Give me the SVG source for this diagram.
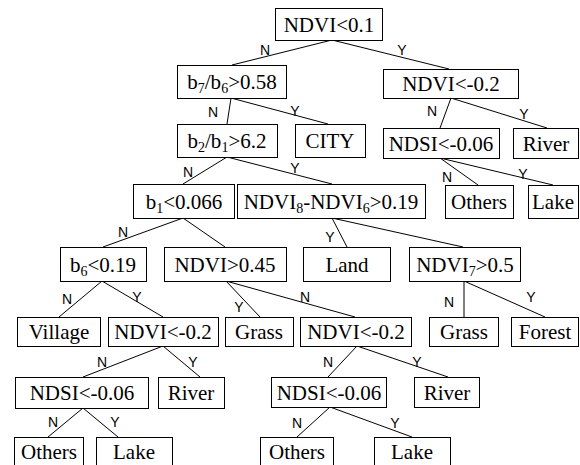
<svg xmlns="http://www.w3.org/2000/svg" width="580" height="465" viewBox="0 0 580 465">
<style>
rect { fill: #fff; stroke: #000; stroke-width: 1; }
.t { font-family: "Liberation Serif", "Times New Roman", serif; font-size: 21px; text-anchor: middle; fill: #000; }
.s { font-size: 14px; }
.l { font-family: "Liberation Sans", Arial, sans-serif; font-size: 14px; text-anchor: middle; fill: #000; }
#edges line { stroke: #000; stroke-width: 1; }
</style>
<rect x="0" y="0" width="580" height="465" style="stroke:none;fill:#fff"/>
<g id="edges">
<line x1="332" y1="40" x2="232" y2="65"/>
<line x1="332" y1="40" x2="449" y2="69"/>
<line x1="231" y1="98" x2="227" y2="124"/>
<line x1="231" y1="98" x2="328" y2="124"/>
<line x1="451" y1="98" x2="440" y2="128"/>
<line x1="451" y1="98" x2="547" y2="128"/>
<line x1="227" y1="157" x2="183" y2="184"/>
<line x1="227" y1="157" x2="332" y2="184"/>
<line x1="440" y1="158" x2="478" y2="185"/>
<line x1="440" y1="158" x2="553" y2="185"/>
<line x1="183" y1="218" x2="103" y2="247"/>
<line x1="183" y1="218" x2="225" y2="247"/>
<line x1="332" y1="218" x2="347" y2="247"/>
<line x1="332" y1="218" x2="463" y2="247"/>
<line x1="102" y1="281" x2="59" y2="317"/>
<line x1="102" y1="281" x2="163" y2="317"/>
<line x1="226" y1="281" x2="260" y2="317"/>
<line x1="226" y1="281" x2="355" y2="317"/>
<line x1="464" y1="281" x2="464" y2="317"/>
<line x1="464" y1="281" x2="545" y2="317"/>
<line x1="163" y1="346" x2="83" y2="377"/>
<line x1="163" y1="346" x2="200" y2="377"/>
<line x1="357" y1="346" x2="328" y2="377"/>
<line x1="357" y1="346" x2="448" y2="377"/>
<line x1="83" y1="408" x2="48" y2="437"/>
<line x1="83" y1="408" x2="118" y2="437"/>
<line x1="330" y1="407" x2="297" y2="437"/>
<line x1="330" y1="407" x2="412" y2="437"/>
</g>
<g id="edge-labels">
<text class="l" x="265" y="55">N</text>
<text class="l" x="402" y="55">Y</text>
<text class="l" x="213" y="117">N</text>
<text class="l" x="295" y="116">Y</text>
<text class="l" x="432" y="116">N</text>
<text class="l" x="524" y="119">Y</text>
<text class="l" x="188" y="177">N</text>
<text class="l" x="295" y="173">Y</text>
<text class="l" x="447" y="182">N</text>
<text class="l" x="523" y="179">Y</text>
<text class="l" x="123" y="237">N</text>
<text class="l" x="330" y="242">Y</text>
<text class="l" x="67" y="304">N</text>
<text class="l" x="137" y="302">Y</text>
<text class="l" x="239" y="312">Y</text>
<text class="l" x="305" y="302">N</text>
<text class="l" x="449" y="307">N</text>
<text class="l" x="531" y="302">Y</text>
<text class="l" x="102" y="367">N</text>
<text class="l" x="193" y="367">Y</text>
<text class="l" x="328" y="367">N</text>
<text class="l" x="417" y="367">Y</text>
<text class="l" x="53" y="427">N</text>
<text class="l" x="115" y="427">Y</text>
<text class="l" x="297" y="428">N</text>
<text class="l" x="395" y="428">Y</text>
</g>
<g id="n1"><rect x="275.5" y="8.5" width="107" height="32"/><text class="t" x="329" y="31.5">NDVI&lt;0.1</text></g>
<g id="n2"><rect x="177.5" y="65.5" width="109" height="33"/><text class="t" x="232" y="88.5">b<tspan class="s" dy="4">7</tspan><tspan dy="-4">/b</tspan><tspan class="s" dy="4">6</tspan><tspan dy="-4">&gt;0.58</tspan></text></g>
<g id="n3"><rect x="383.5" y="69.5" width="135" height="29"/><text class="t" x="451" y="90.5">NDVI&lt;-0.2</text></g>
<g id="n4"><rect x="177.5" y="124.5" width="100" height="33"/><text class="t" x="227" y="147.5">b<tspan class="s" dy="4">2</tspan><tspan dy="-4">/b</tspan><tspan class="s" dy="4">1</tspan><tspan dy="-4">&gt;6.2</tspan></text></g>
<g id="n5"><rect x="295.5" y="124.5" width="70" height="33"/><text class="t" x="330" y="147.5">CITY</text></g>
<g id="n6"><rect x="383.5" y="128.5" width="116" height="30"/><text class="t" x="441" y="150.5">NDSI&lt;-0.06</text></g>
<g id="n7"><rect x="513.5" y="128.5" width="65" height="30"/><text class="t" x="546" y="150.5">River</text></g>
<g id="n8"><rect x="133.5" y="184.5" width="101" height="34"/><text class="t" x="184" y="208.5">b<tspan class="s" dy="4">1</tspan><tspan dy="-4">&lt;0.066</tspan></text></g>
<g id="n9"><rect x="237.5" y="184.5" width="188" height="34"/><text class="t" x="331" y="208.5">NDVI<tspan class="s" dy="4">8</tspan><tspan dy="-4">-NDVI</tspan><tspan class="s" dy="4">6</tspan><tspan dy="-4">&gt;0.19</tspan></text></g>
<g id="n10"><rect x="445.5" y="185.5" width="68" height="33"/><text class="t" x="479" y="209">Others</text></g>
<g id="n11"><rect x="528.5" y="185.5" width="50" height="33"/><text class="t" x="553" y="209">Lake</text></g>
<g id="n12"><rect x="60.5" y="247.5" width="86" height="34"/><text class="t" x="103" y="271.5">b<tspan class="s" dy="4">6</tspan><tspan dy="-4">&lt;0.19</tspan></text></g>
<g id="n13"><rect x="164.5" y="247.5" width="122" height="34"/><text class="t" x="225" y="271.5">NDVI&gt;0.45</text></g>
<g id="n14"><rect x="303.5" y="247.5" width="87" height="34"/><text class="t" x="347" y="271.5">Land</text></g>
<g id="n15"><rect x="409.5" y="247.5" width="111" height="34"/><text class="t" x="465" y="271.5">NDVI<tspan class="s" dy="4">7</tspan><tspan dy="-4">&gt;0.5</tspan></text></g>
<g id="n16"><rect x="17.5" y="317.5" width="83" height="29"/><text class="t" x="59" y="338.5">Village</text></g>
<g id="n17"><rect x="108.5" y="317.5" width="110" height="29"/><text class="t" x="163" y="338.5">NDVI&lt;-0.2</text></g>
<g id="n18"><rect x="225.5" y="317.5" width="68" height="29"/><text class="t" x="259" y="338.5">Grass</text></g>
<g id="n19"><rect x="300.5" y="317.5" width="111" height="29"/><text class="t" x="356" y="338.5">NDVI&lt;-0.2</text></g>
<g id="n20"><rect x="429.5" y="317.5" width="69" height="29"/><text class="t" x="464" y="338.5">Grass</text></g>
<g id="n21"><rect x="511.5" y="317.5" width="67" height="29"/><text class="t" x="545" y="338.5">Forest</text></g>
<g id="n22"><rect x="15.5" y="377.5" width="133" height="31"/><text class="t" x="82" y="400">NDSI&lt;-0.06</text></g>
<g id="n23"><rect x="158.5" y="377.5" width="66" height="31"/><text class="t" x="191" y="400">River</text></g>
<g id="n24"><rect x="271.5" y="377.5" width="115" height="30"/><text class="t" x="329" y="399.5">NDSI&lt;-0.06</text></g>
<g id="n25"><rect x="414.5" y="377.5" width="65" height="30"/><text class="t" x="447" y="399.5">River</text></g>
<g id="n26"><rect x="14.5" y="437.5" width="69" height="34"/><text class="t" x="49" y="459">Others</text></g>
<g id="n27"><rect x="96.5" y="437.5" width="76" height="34"/><text class="t" x="134" y="459">Lake</text></g>
<g id="n28"><rect x="260.5" y="437.5" width="73" height="34"/><text class="t" x="297" y="459">Others</text></g>
<g id="n29"><rect x="374.5" y="437.5" width="76" height="34"/><text class="t" x="412" y="459">Lake</text></g>
</svg>
